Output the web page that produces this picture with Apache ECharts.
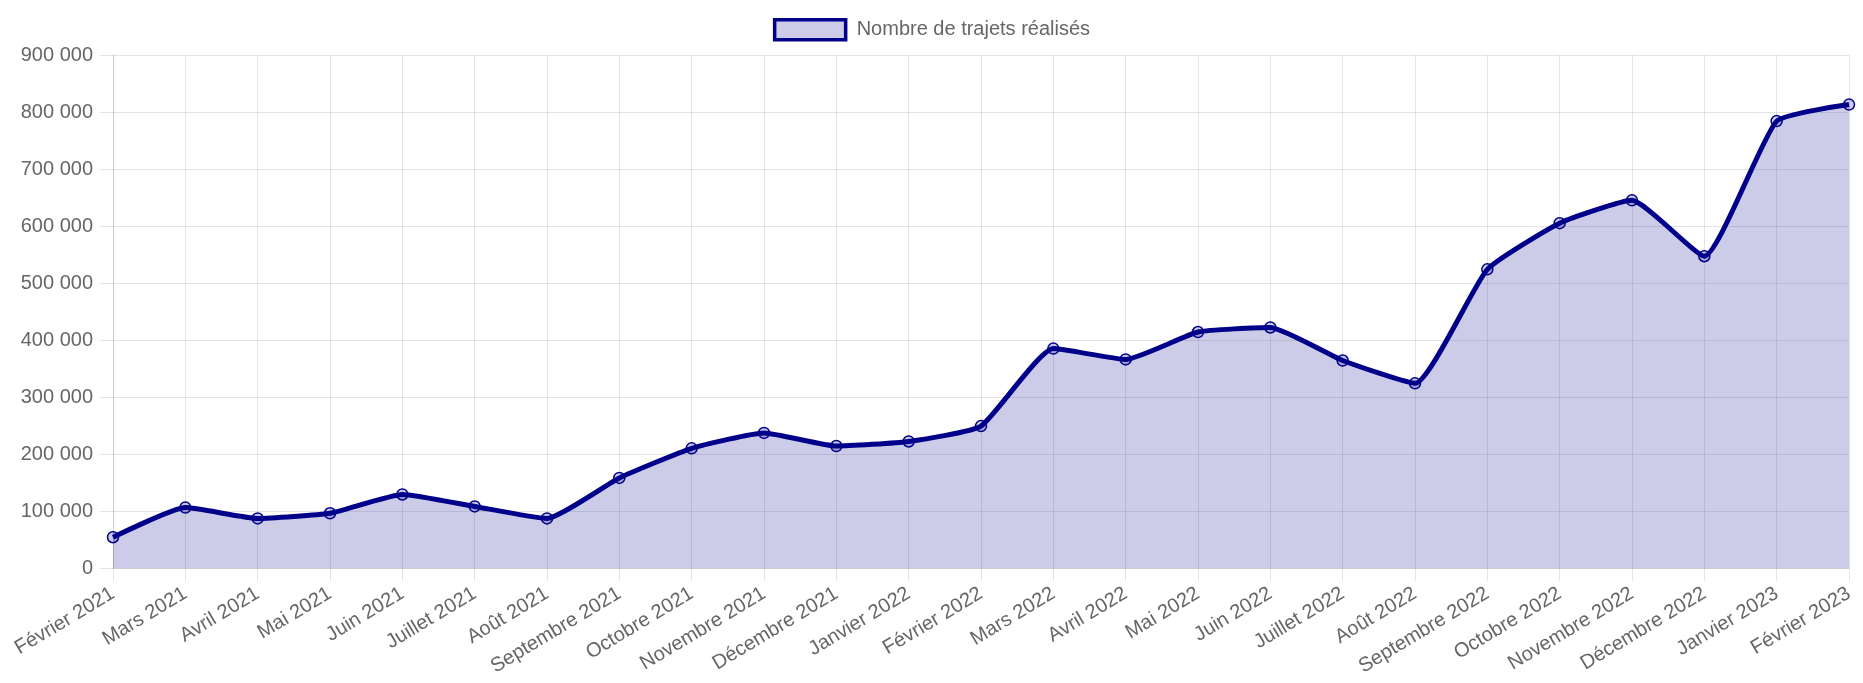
<!DOCTYPE html>
<html>
<head>
<meta charset="utf-8">
<title>Nombre de trajets réalisés</title>
<script src="https://cdn.jsdelivr.net/npm/echarts@6/dist/echarts.min.js"></script>
<style>
  html, body { margin: 0; padding: 0; background: #fff; }
  #chart { width: 1863px; height: 683px; }
</style>
</head>
<body>
<div id="chart"></div>
<script>
// mois affichés sur l'axe x
const months = [
  'Février 2021', 'Mars 2021', 'Avril 2021', 'Mai 2021', 'Juin 2021', 'Juillet 2021',
  'Août 2021', 'Septembre 2021', 'Octobre 2021', 'Novembre 2021', 'Décembre 2021',
  'Janvier 2022', 'Février 2022', 'Mars 2022', 'Avril 2022', 'Mai 2022', 'Juin 2022',
  'Juillet 2022', 'Août 2022', 'Septembre 2022', 'Octobre 2022', 'Novembre 2022',
  'Décembre 2022', 'Janvier 2023', 'Février 2023'
]
// nombre de trajets
const trips = [
  54000, 106000, 87000, 96000, 129000, 108000,
  87000, 158000, 210000, 237000, 214000,
  222000, 249000, 385000, 366000, 414000, 422000,
  364000, 324000, 524000, 605000, 645000,
  547000, 784000, 813000
]
const seriesName = 'Nombre de trajets réalisés'
const yMin = 0
const yMax = 900000
const yStep = 100000

const blue = '#00008b'
const fill = 'rgba(0, 0, 139, 0.2)'
const gridColor = 'rgba(0, 0, 0, 0.1)'
const textColor = '#666'
const font = 'Liberation Sans, Arial, Helvetica, sans-serif'

function fmt(v) {
  return String(v).replace(/\B(?=(\d{3})+(?!\d))/g, ' ')
}

const chart = echarts.init(document.getElementById('chart'))
chart.setOption({
  animation: false,
  textStyle: { fontFamily: font },
  legend: {
    top: 13,
    left: 'center',
    icon: 'rect',
    itemWidth: 71,
    itemHeight: 20,
    data: [{
      name: seriesName,
      icon: 'rect',
      itemStyle: { color: fill, borderColor: blue, borderWidth: 3.5 }
    }],
    textStyle: { color: textColor, fontSize: 20, fontFamily: font, padding: [0, 0, 0, 6] }
  },
  grid: {
    left: 113,
    right: 14,
    top: 55,
    bottom: 115,
    containLabel: false
  },
  xAxis: {
    type: 'category',
    boundaryGap: false,
    data: months,
    axisLine: { show: true, lineStyle: { color: gridColor, width: 1 } },
    axisTick: { show: true, alignWithLabel: true, length: 13, lineStyle: { color: gridColor } },
    splitLine: { show: true, lineStyle: { color: gridColor, width: 1 } },
    axisLabel: {
      interval: 0,
      rotate: 31,
      margin: 24,
      color: textColor,
      fontSize: 20,
      fontFamily: font
    }
  },
  yAxis: {
    type: 'value',
    min: yMin,
    max: yMax,
    interval: yStep,
    axisLine: { show: true, lineStyle: { color: gridColor, width: 1 } },
    axisTick: { show: true, length: 13, lineStyle: { color: gridColor } },
    splitLine: { show: true, lineStyle: { color: gridColor, width: 1 } },
    axisLabel: {
      margin: 20,
      color: textColor,
      fontSize: 20,
      fontFamily: font,
      formatter: fmt
    }
  },
  series: [{
    name: seriesName,
    type: 'line',
    data: trips,
    smooth: 0.15,
    symbol: 'circle',
    symbolSize: 11,
    showAllSymbol: true,
    lineStyle: { color: blue, width: 5 },
    itemStyle: { color: fill, borderColor: blue, borderWidth: 1.5 },
    areaStyle: { color: fill, opacity: 1, origin: 'start' }
  }]
})
</script>
</body>
</html>
